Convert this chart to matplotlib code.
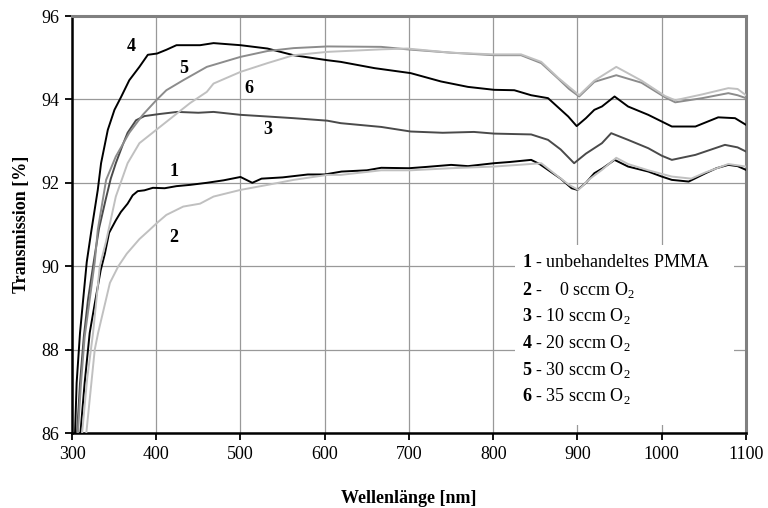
"""
Transmission spectra of PMMA after O2 plasma treatment (reproduction).
"""
import matplotlib
matplotlib.use('Agg')
import matplotlib.pyplot as plt
from matplotlib.patches import Rectangle

plt.rcParams.update({'font.family': ['Liberation Serif', 'DejaVu Serif'],
                     'mathtext.fontset': 'custom',
                     'mathtext.rm': 'Liberation Serif',
                     'mathtext.bf': 'Liberation Serif:bold',
                     'font.size': 13})

# curve 1 - untreated PMMA
wl1 = [310, 315, 321, 327, 334, 339, 344, 352, 358, 366, 372, 378, 386, 396, 410, 424,
       440, 460, 480, 500, 514, 525, 550, 580, 600, 620, 650, 667, 700, 720, 750, 770,
       801, 820, 845, 855, 865, 880, 893, 900, 910, 920, 930, 944, 960, 984, 1000, 1012,
       1032, 1052, 1065, 1079, 1090, 1100]
t1 = [86.0, 87.2, 88.4, 89.1, 89.9, 90.3, 90.8, 91.1, 91.3, 91.5, 91.7, 91.8, 91.82, 91.88,
      91.87, 91.92, 91.95, 92.0, 92.06, 92.14, 92.0, 92.1, 92.13, 92.2, 92.2, 92.27, 92.3,
      92.36, 92.35, 92.38, 92.43, 92.4, 92.47, 92.5, 92.55, 92.45, 92.31, 92.1, 91.87, 91.83,
      92.0, 92.23, 92.35, 92.55, 92.39, 92.27, 92.15, 92.07, 92.03, 92.23, 92.35, 92.43,
      92.4, 92.31]

# curve 2 - 0 sccm
wl2 = [317, 323, 327, 331, 338, 345, 355, 365, 380, 392, 401, 412, 432, 452, 468, 500, 532,
       563, 603, 619, 667, 702, 750, 801, 830, 857, 877, 890, 901, 915, 929, 946, 960, 984,
       1012, 1035, 1052, 1079, 1100]
t2 = [86.0, 87.2, 88.0, 88.4, 89.0, 89.6, 90.0, 90.3, 90.65, 90.87, 91.04, 91.23, 91.43,
      91.5, 91.67, 91.83, 91.95, 92.07, 92.19, 92.19, 92.3, 92.3, 92.35, 92.39, 92.43, 92.47,
      92.15, 91.95, 91.83, 92.1, 92.31, 92.6, 92.45, 92.3, 92.15, 92.1, 92.25, 92.45, 92.39]

# curve 3 - 10 sccm
wl3 = [306, 309.5, 314, 319, 325, 332, 340, 346, 352, 360, 366, 376, 386, 404, 425, 450,
       468, 500, 532, 563, 603, 619, 667, 702, 740, 777, 801, 845, 865, 880, 896, 910, 929,
       940, 960, 984, 1000, 1012, 1040, 1075, 1090, 1100]
t3 = [86.0, 87.2, 88.3, 89.2, 90.0, 90.9, 91.6, 92.1, 92.47, 92.9, 93.2, 93.5, 93.6, 93.65,
      93.7, 93.68, 93.7, 93.63, 93.59, 93.55, 93.49, 93.43, 93.34, 93.23, 93.2, 93.22, 93.18,
      93.16, 93.03, 92.8, 92.47, 92.7, 92.95, 93.19, 93.03, 92.83, 92.65, 92.55, 92.67, 92.91,
      92.85, 92.75]

# curve 4 - 20 sccm
wl4 = [303.6, 305.5, 309.5, 314, 317.5, 322.6, 330.6, 334.5, 342.5, 350.4, 358.3, 368, 380,
       390, 401, 412, 424, 452, 468, 500, 532, 563, 603, 619, 659, 702, 738, 770, 801, 825,
       845, 865, 889, 899, 910, 920, 929, 944, 960, 984, 1012, 1040, 1067, 1087, 1100]
t4 = [86.0, 87.2, 88.4, 89.36, 90.1, 90.8, 91.83, 92.47, 93.27, 93.75, 94.06, 94.46, 94.78,
      95.07, 95.1, 95.19, 95.3, 95.3, 95.35, 95.3, 95.22, 95.06, 94.94, 94.9, 94.75, 94.63,
      94.43, 94.3, 94.23, 94.22, 94.1, 94.03, 93.59, 93.36, 93.55, 93.75, 93.83, 94.07,
      93.83, 93.63, 93.35, 93.35, 93.57, 93.55, 93.39]

# curve 5 - 30 sccm
wl5 = [307, 310.7, 315, 321, 327, 330.6, 340.5, 352, 368, 384, 400, 412, 432, 460, 500,
       532, 563, 603, 667, 698, 750, 801, 833, 857, 877, 890, 902, 920, 946, 976, 1004,
       1016, 1048, 1079, 1090, 1100]
t5 = [86.0, 87.2, 88.3, 89.2, 90.1, 90.87, 92.07, 92.63, 93.2, 93.63, 93.98, 94.22, 94.46,
      94.78, 95.02, 95.16, 95.23, 95.27, 95.26, 95.2, 95.12, 95.06, 95.06, 94.87, 94.5,
      94.25, 94.07, 94.42, 94.58, 94.4, 94.05, 93.93, 94.03, 94.15, 94.1, 94.03]

# curve 6 - 35 sccm
wl6 = [312, 318, 325, 333, 340.5, 352, 366, 380, 400, 420, 440, 460, 468, 500, 532, 563,
       603, 667, 698, 750, 801, 833, 857, 877, 890, 902, 920, 946, 976, 1004, 1016, 1048,
       1079, 1090, 1100]
t6 = [86.0, 87.3, 88.4, 90.0, 90.6, 91.67, 92.47, 92.95, 93.27, 93.59, 93.91, 94.18, 94.38,
      94.66, 94.87, 95.06, 95.14, 95.2, 95.22, 95.12, 95.08, 95.08, 94.9, 94.52, 94.3, 94.1,
      94.45, 94.78, 94.45, 94.08, 93.98, 94.12, 94.27, 94.25, 94.1]

legend_lines = [r'$\mathbf{1}$ - unbehandeltes PMMA',
                r'$\mathbf{2}$ -    0 sccm O$_2$',
                r'$\mathbf{3}$ - 10 sccm O$_2$',
                r'$\mathbf{4}$ - 20 sccm O$_2$',
                r'$\mathbf{5}$ - 30 sccm O$_2$',
                r'$\mathbf{6}$ - 35 sccm O$_2$']

# (nummer, x, y) der Kurvenbeschriftungen
curve_labels = [('4', 370, 95.26), ('5', 432, 94.73), ('6', 510, 94.27),
                ('3', 533, 93.27), ('1', 421, 92.26), ('2', 421, 90.7)]

series = [(wl1, t1, 'black'), (wl2, t2, '#c0c0c0'), (wl3, t3, '#4a4a4a'),
          (wl4, t4, 'black'), (wl5, t5, '#8c8c8c'), (wl6, t6, '#c0c0c0')]

fig = plt.figure(figsize=(7.68, 5.08), dpi=100)
ax = fig.add_axes([0.09375, 0.1476, 0.8776, 0.8209])

for wl, t, col in series:
    ax.plot(wl, t, color=col, linewidth=1.4, zorder=3)

ax.set_xlim(300, 1100)
ax.set_ylim(86, 96)
ax.set_xticks(range(300, 1101, 100))
ax.set_yticks(range(86, 97, 2))
ax.set_axisbelow(True)
ax.grid(True, color='#999999', linewidth=0.9)
ax.tick_params(direction='out', length=5, width=1.3, labelsize=13, pad=4)

for s in ('left', 'bottom'):
    ax.spines[s].set_color('black')
    ax.spines[s].set_linewidth(1.8)
for s in ('top', 'right'):
    ax.spines[s].set_color('#808080')
    ax.spines[s].set_linewidth(2.2)

# weisser Legendenkasten ueber dem Gitter
ax.add_patch(Rectangle((826, 86.2), 260, 4.3, facecolor='white', edgecolor='none', zorder=1))
for i, txt in enumerate(legend_lines):
    ax.text(834, 90.08 - i * 0.64, txt, fontsize=13, va='center', ha='left', zorder=4)

for num, x, y in curve_labels:
    ax.text(x, y, num, fontsize=13, fontweight='bold', ha='center', va='center', zorder=4)

ax.set_xlabel('Wellenlänge [nm]', fontweight='bold', fontsize=13, labelpad=20)
ax.set_ylabel('Transmission [%]', fontweight='bold', fontsize=13, labelpad=8)

fig.savefig('out.png', dpi=100)
